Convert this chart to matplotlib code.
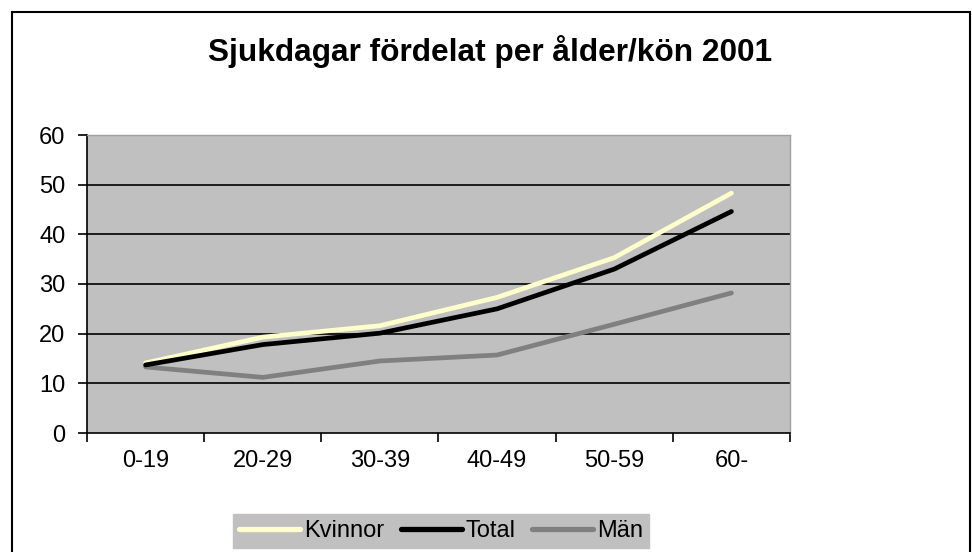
import matplotlib
matplotlib.use("Agg")
import matplotlib.pyplot as plt
from matplotlib.patches import Rectangle
from matplotlib.ticker import FixedLocator, NullFormatter

categories = ["0-19", "20-29", "30-39", "40-49", "50-59", "60-"]
kvinnor = [14.1, 19.3, 21.6, 27.3, 35.3, 48.3]
total = [13.7, 17.8, 20.1, 25.0, 33.0, 44.6]
man = [13.3, 11.2, 14.5, 15.7, 21.9, 28.2]
yticks = [0, 10, 20, 30, 40, 50, 60]
title = "Sjukdagar fördelat per ålder/kön 2001"

plt.rcParams['font.family'] = ['Liberation Sans', 'DejaVu Sans']

W, H = 972, 552
fig = plt.figure(figsize=(W / 100, H / 100), dpi=100)
fig.patch.set_facecolor("white")

# outer chart frame
fig.patches.append(Rectangle((12 / W, -0.05), (970 - 12) / W, 1 - 12 / H + 0.05,
                             transform=fig.transFigure, fill=False,
                             edgecolor="black", linewidth=1.5))

left, right, top, bottom = 87, 790, 135, 433
ax = fig.add_axes([left / W, 1 - bottom / H, (right - left) / W, (bottom - top) / H])
ax.set_facecolor("#C0C0C0")

x = list(range(len(categories)))
ax.plot(x, kvinnor, color="#FFFFCC", lw=3.4, label="Kvinnor", solid_capstyle="round", zorder=3)
ax.plot(x, total, color="black", lw=3.4, label="Total", solid_capstyle="round", zorder=4)
ax.plot(x, man, color="#808080", lw=3.4, label="Män", solid_capstyle="round", zorder=2)

ax.set_xlim(-0.5, len(categories) - 0.5)
ax.set_ylim(0, 60)
ax.set_yticks(yticks)
ax.set_yticklabels([str(v) for v in yticks])
for v in yticks[1:]:
    ax.axhline(v, color="black", lw=1.2, zorder=1)

ax.xaxis.set_major_locator(FixedLocator([i - 0.5 for i in range(len(categories) + 1)]))
ax.xaxis.set_major_formatter(NullFormatter())
ax.xaxis.set_minor_locator(FixedLocator(x))
ax.set_xticklabels(categories, minor=True)
ax.tick_params(axis="x", which="minor", length=0, pad=12, labelsize=17)
ax.tick_params(axis="x", which="major", length=6.5, width=1.2, direction="out")
ax.tick_params(axis="y", length=6.5, width=1.2, direction="out", labelsize=17, pad=9)

for s in ["left", "bottom"]:
    ax.spines[s].set_color("black")
    ax.spines[s].set_linewidth(1.2)
for s in ["top", "right"]:
    ax.spines[s].set_color("#A0A0A0")
    ax.spines[s].set_linewidth(1.0)

fig.text(490 / W, 1 - 52 / H, title, ha="center", va="center",
         fontsize=22.8, fontweight="bold")

leg = fig.legend(loc="upper center", bbox_to_anchor=(441 / W, 1 - 514 / H),
                 ncol=3, frameon=True, fontsize=17, handlelength=2.6,
                 handletextpad=0.15, columnspacing=0.7, borderpad=0.25,
                 fancybox=False, borderaxespad=0)
leg.get_frame().set_facecolor("#C0C0C0")
leg.get_frame().set_edgecolor("#C0C0C0")
leg.get_frame().set_alpha(1)
for ln in leg.get_lines():
    ln.set_linewidth(3.8)

fig.savefig("out.png", dpi=100)
